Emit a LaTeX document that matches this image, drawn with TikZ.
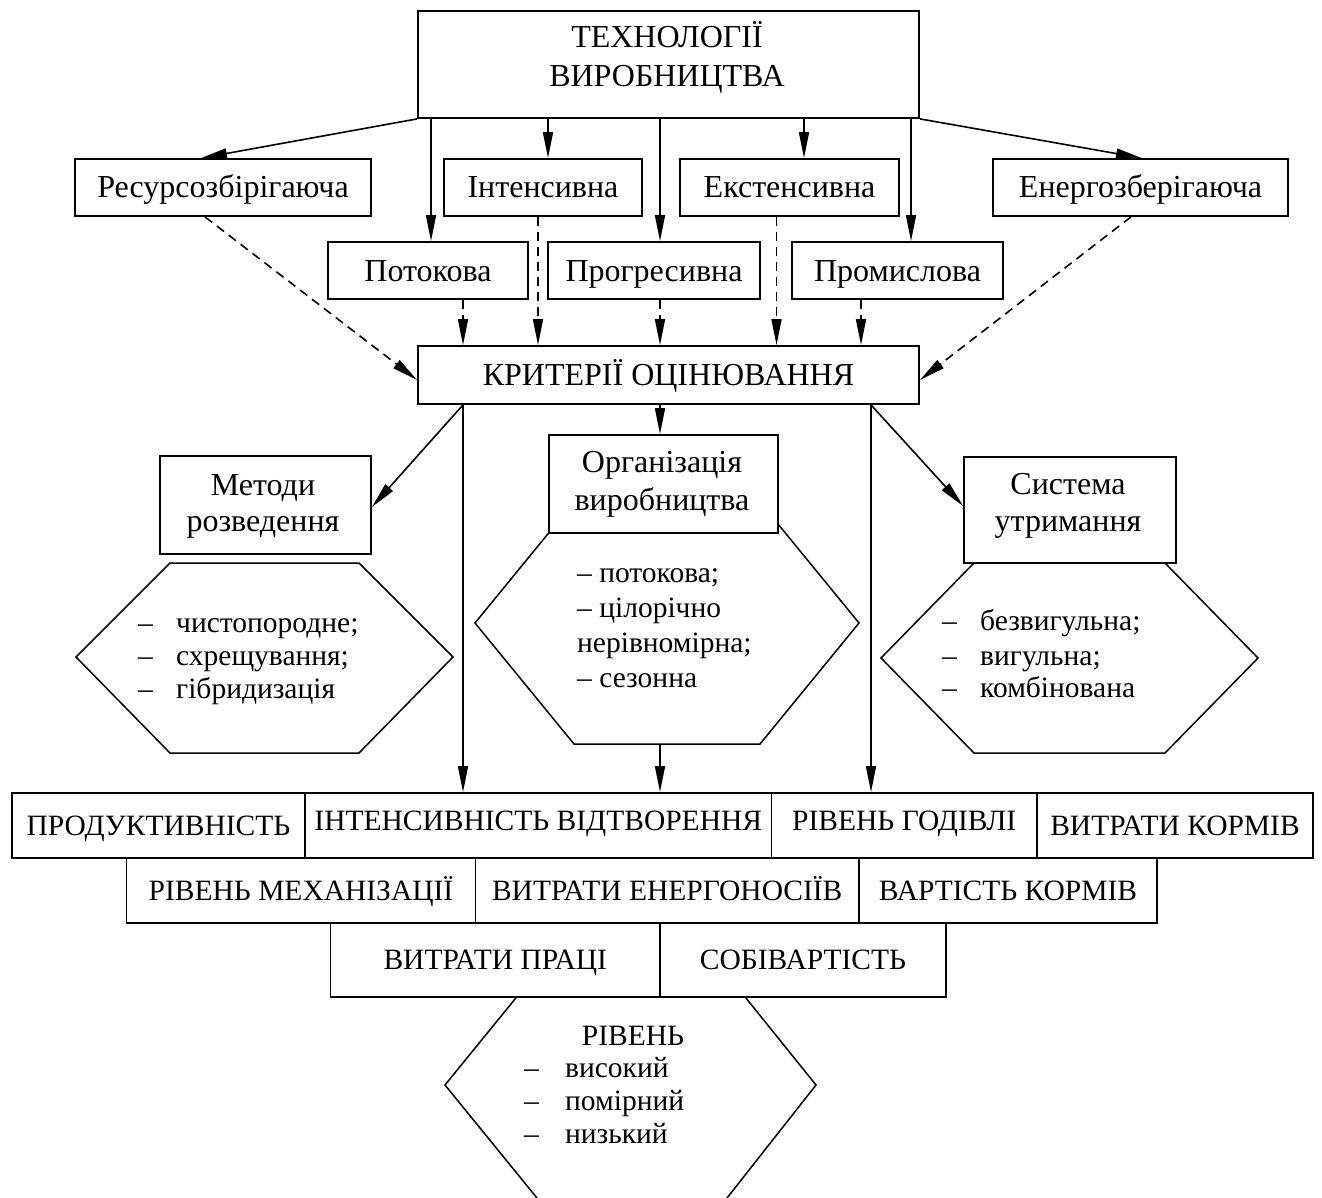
\documentclass[tikz,border=0pt]{standalone}
\usepackage{fontspec}
\setmainfont{Liberation Serif}
\usetikzlibrary{arrows.meta}
\newcommand\myfs{\fontsize{29.5}{34}\selectfont}
\newcommand\bigfs{\fontsize{32}{36}\selectfont}
\newcommand\dsh{\makebox[38pt][l]{–}}
\tikzset{
  box/.style={draw, line width=1.8pt, fill=white, inner sep=0pt, text height=19.5pt, text depth=0pt, font=\myfs},
  bbox/.style={box, text height=21pt, font=\bigfs},
  ebox/.style={draw, line width=1.8pt, fill=white, inner sep=0pt},
  up/.style={text depth=10pt},
  txt/.style={font=\bigfs, inner sep=0pt, anchor=base},
  stxt/.style={font=\myfs, inner sep=0pt, anchor=base},
  ltxt/.style={font=\myfs, inner sep=0pt, anchor=base west},
  hex/.style={line width=1.5pt, line join=miter},
  arr/.style={line width=1.6pt, -{Triangle[length=26pt,width=10pt]}},
  darr/.style={arr, dash pattern=on 9pt off 6pt}
}
\begin{document}
\begin{tikzpicture}[x=1pt,y=-1pt]
\useasboundingbox (0,0) rectangle (1322,1198);
% hexagons (drawn first, boxes overlap them)
\coordinate (mL) at (76,657);  \coordinate (mTL) at (170,563); \coordinate (mTR) at (359,563);
\coordinate (mR) at (453,657); \coordinate (mBR) at (359,753); \coordinate (mBL) at (170,753);
\draw[hex] (mL) -- (mTL) -- (mTR) -- (mR) -- (mBR) -- (mBL) -- cycle;
\coordinate (oL) at (475,623);  \coordinate (oTL) at (574,502); \coordinate (oTR) at (760,502);
\coordinate (oR) at (859,623); \coordinate (oBR) at (760,744); \coordinate (oBL) at (574,744);
\draw[hex] (oL) -- (oTL) -- (oTR) -- (oR) -- (oBR) -- (oBL) -- cycle;
\coordinate (sL) at (881,658);  \coordinate (sTL) at (974,563); \coordinate (sTR) at (1165,563);
\coordinate (sR) at (1258,658); \coordinate (sBR) at (1165,753); \coordinate (sBL) at (974,753);
\draw[hex] (sL) -- (sTL) -- (sTR) -- (sR) -- (sBR) -- (sBL) -- cycle;
\coordinate (rB1) at (537,1198); \coordinate (rL) at (445,1085); \coordinate (rTL) at (537,972);
\coordinate (rTR) at (725,972); \coordinate (rR) at (816,1085); \coordinate (rB2) at (727,1198);
\draw[hex] (rB1) -- (rL) -- (rTL) -- (rTR) -- (rR) -- (rB2);

% top box
\node[ebox, minimum width=501pt, minimum height=107pt] (tech) at (668.5,64.5) {};
\node[txt] (tech1) at (667,48) {ТЕХНОЛОГІЇ};
\node[txt] (tech2) at (667,87) {ВИРОБНИЦТВА};
% second level
\node[bbox, minimum width=296pt, minimum height=57pt] (res) at (223,187.5) {Ресурсозбірігаюча};
\node[bbox, minimum width=198pt, minimum height=57pt] (int) at (543,187.5) {Інтенсивна};
\node[bbox, minimum width=219pt, minimum height=57pt] (ext) at (789.5,187.5) {Екстенсивна};
\node[bbox, minimum width=295pt, minimum height=57pt] (ener) at (1140.5,187.5) {Енергозберігаюча};
\node[bbox, minimum width=200pt, minimum height=57pt] (pot) at (428,270.5) {Потокова};
\node[bbox, minimum width=212pt, minimum height=57pt] (prog) at (654,270.5) {Прогресивна};
\node[bbox, minimum width=211pt, minimum height=57pt] (prom) at (897.5,270.5) {Промислова};
\node[bbox, minimum width=501pt, minimum height=58pt] (krit) at (668.5,375) {КРИТЕРІЇ ОЦІНЮВАННЯ};
% third level
\node[ebox, minimum width=211pt, minimum height=98pt] (met) at (265.5,505) {};
\node[txt] (met1) at (263,495) {Методи};
\node[txt] (met2) at (263,531) {розведення};
\node[ebox, minimum width=229pt, minimum height=98pt] (org) at (663.5,484) {};
\node[txt] (org1) at (662,472) {Організація};
\node[txt] (org2) at (662,510) {виробництва};
\node[ebox, minimum width=212pt, minimum height=106pt] (sys) at (1070,510) {};
\node[txt] (sys1) at (1068,494) {Система};
\node[txt] (sys2) at (1068,531) {утримання};
% hexagon texts
\node[ltxt] (m1) at (138,632) {\dsh чистопородне;};
\node[ltxt] (m2) at (138,665) {\dsh схрещування;};
\node[ltxt] (m3) at (138,698) {\dsh гібридизація};
\node[ltxt] (o1) at (577,582) {– потокова;};
\node[ltxt] (o2) at (577,617) {– цілорічно};
\node[ltxt] (o3) at (577,652) {нерівномірна;};
\node[ltxt] (o4) at (577,687) {– сезонна};
\node[ltxt] (s1) at (942,630) {\dsh безвигульна;};
\node[ltxt] (s2) at (942,665) {\dsh вигульна;};
\node[ltxt] (s3) at (942,697) {\dsh комбінована};
% bottom rows
\node[box, minimum width=293pt, minimum height=65pt] (p1) at (158.5,825.5) {ПРОДУКТИВНІСТЬ};
\node[box, up, minimum width=466.5pt, minimum height=65pt] (p2) at (538.25,825.5) {ІНТЕНСИВНІСТЬ ВІДТВОРЕННЯ};
\node[box, up, minimum width=265.5pt, minimum height=65pt] (p3) at (904.25,825.5) {РІВЕНЬ ГОДІВЛІ};
\node[box, minimum width=276pt, minimum height=65pt] (p4) at (1175,825.5) {ВИТРАТИ КОРМІВ};
\node[box, minimum width=349pt, minimum height=65pt] (q1) at (301,890.5) {РІВЕНЬ МЕХАНІЗАЦІЇ};
\node[box, minimum width=383.5pt, minimum height=65pt] (q2) at (667.25,890.5) {ВИТРАТИ ЕНЕРГОНОСІЇВ};
\node[box, minimum width=298pt, minimum height=65pt] (q3) at (1008,890.5) {ВАРТІСТЬ КОРМІВ};
\node[box, minimum width=329.5pt, minimum height=74pt] (r1) at (495.25,960) {ВИТРАТИ ПРАЦІ};
\node[box, minimum width=286pt, minimum height=74pt] (r2) at (803,960) {СОБІВАРТІСТЬ};
% bottom hexagon texts
\node[stxt] (rv) at (633,1045) {РІВЕНЬ};
\node[ltxt] (rv1) at (524,1077) {\makebox[41pt][l]{–}високий};
\node[ltxt] (rv2) at (524,1110) {\makebox[41pt][l]{–}помірний};
\node[ltxt] (rv3) at (524,1143) {\makebox[41pt][l]{–}низький};

% arrows from top box
\draw[arr] (tech.south west) -- ([xshift=-22pt]res.north);
\coordinate (a1) at ([xshift=3pt]pot.north);   \draw[arr] (a1 |- tech.south) -- (a1);
\coordinate (a2) at ([xshift=5pt]int.north);   \draw[arr] (a2 |- tech.south) -- (a2);
\coordinate (a3) at ([xshift=6pt]prog.north);  \draw[arr] (a3 |- tech.south) -- (a3);
\coordinate (a4) at ([xshift=14.5pt]ext.north); \draw[arr] (a4 |- tech.south) -- (a4);
\coordinate (a5) at ([xshift=13.5pt]prom.north); \draw[arr] (a5 |- tech.south) -- (a5);
\draw[arr] (tech.south east) -- ([xshift=1.5pt]ener.north);
% dashed arrows to criteria
\draw[darr] ([xshift=-18pt]res.south) -- ([yshift=-5pt]krit.west);
\coordinate (d1) at ([xshift=35pt]pot.south);   \draw[darr] (d1) -- (d1 |- krit.north);
\coordinate (d2) at ([xshift=-5pt]int.south);   \draw[darr] (d2) -- (d2 |- krit.north);
\coordinate (d3) at ([xshift=6pt]prog.south);   \draw[darr] (d3) -- (d3 |- krit.north);
\coordinate (d4) at ([xshift=-13pt]ext.south);  \draw[darr] (d4) -- (d4 |- krit.north);
\coordinate (d5) at ([xshift=-36.5pt]prom.south); \draw[darr] (d5) -- (d5 |- krit.north);
\draw[darr] ([xshift=-9.5pt]ener.south) -- ([yshift=-5pt]krit.east);
% arrows from criteria
\coordinate (k1) at ([xshift=-205.5pt]krit.south);
\coordinate (k2) at ([xshift=-8.5pt]krit.south);
\coordinate (k3) at ([xshift=202.5pt]krit.south);
\draw[arr] (k1) -- ([yshift=-2pt]met.east);
\draw[arr] (k1) -- (k1 |- p2.north);
\draw[arr] (k2) -- (k2 |- org.north);
\draw[arr] (k3) -- ([yshift=4pt]sys.west);
\draw[arr] (k3) -- (k3 |- p3.north);
\coordinate (oA) at (660,744);
\draw[arr] (oA) -- (oA |- p2.north);
\end{tikzpicture}
\end{document}
